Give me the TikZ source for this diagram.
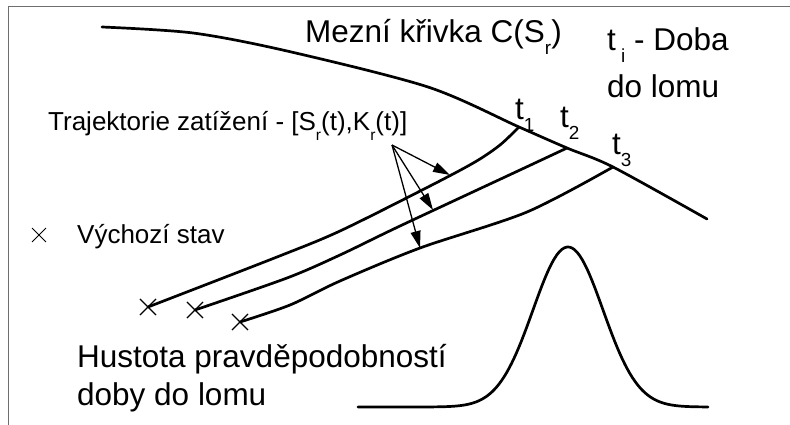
\documentclass[tikz,border=0pt]{standalone}
\usepackage{fontspec}
\setmainfont{Liberation Sans}
\usetikzlibrary{arrows.meta,shapes.misc}
\definecolor{framegray}{RGB}{110,110,110}
\newcommand{\lowidx}[1]{\raisebox{-0.36em}{\scalebox{0.6}{#1}}}

\begin{document}
\begin{tikzpicture}[x=1pt,y=-1pt,
  every node/.style={inner sep=0pt,anchor=base west},
  big/.style={font=\fontsize{31.5}{36}\selectfont},
  small/.style={font=\fontsize{26}{30}\selectfont},
  curve/.style={line width=2.7pt,line join=round,line cap=round},
  ptr/.style={line width=1.3pt,-{Triangle[length=17pt,width=10pt]}},
  xmark/.style={cross out,draw,minimum size=15pt,line width=1.1pt,anchor=center}]
\useasboundingbox (0,0) rectangle (790,425);
\draw[framegray,line width=1.6pt] (790,6.5) -- (8.5,6.5) -- (8.5,425);
\coordinate (p1) at (519,127); \coordinate (p2) at (567,148); \coordinate (p3) at (613,167);
\draw[curve] plot[smooth,tension=0.5] coordinates {(102,27) (193,33) (287,51) (428,87) (p1) (p2) (p3) (707,219)};
\node[xmark] (s1) at (148,307) {}; \node[xmark] (s2) at (195,310) {}; \node[xmark] (s3) at (240,322) {};
\draw[curve] plot[smooth,tension=0.5] coordinates {(p1) (500,145) (475,162) (430,186) (340,231) (277,257) (s1.center)};
\draw[curve] plot[smooth,tension=0.5] coordinates {(p2) (520,170) (400,226) (340,255) (287,278) (s2.center)};
\draw[curve] plot[smooth,tension=0.5] coordinates {(p3) (527,212) (420,248) (340,281) (290,305) (s3.center)};
\coordinate (src) at (392,145);
\coordinate (a1) at (450,175); \coordinate (a2) at (433,210); \coordinate (a3) at (420,248);
\draw[ptr] (src) -- (a1); \draw[ptr] (src) -- (a2); \draw[ptr] (src) -- (a3);
\draw[curve] plot[domain=358:708,samples=140] (\x,{407-160*exp(-((\x-568)/35)*((\x-568)/35)/2)});
\node[big] (mez) at (305,43) {Mezní křivka C(S\lowidx{r})};
\node[big] (doba) at (607,51) {t\lowidx{ i} - Doba};
\node[big] (lomu) at (607,98) {do lomu};
\node[big] (t1) at (515,120) {t\lowidx{1}};
\node[big] (t2) at (560,128) {t\lowidx{2}};
\node[big] (t3) at (612,155) {t\lowidx{3}};
\node[small] (traj) at (48,131) {Trajektorie zatížení - [S\lowidx{r}(t),K\lowidx{r}(t)]};
\node[xmark,minimum size=13pt,line width=0.9pt] (leg) at (39,235) {};
\node[small] (vych) at (77,243) {Výchozí stav};
\node[big] (hust) at (77,367) {Hustota pravděpodobností};
\node[big] (doby) at (77,405) {doby do lomu};
\end{tikzpicture}
\end{document}
